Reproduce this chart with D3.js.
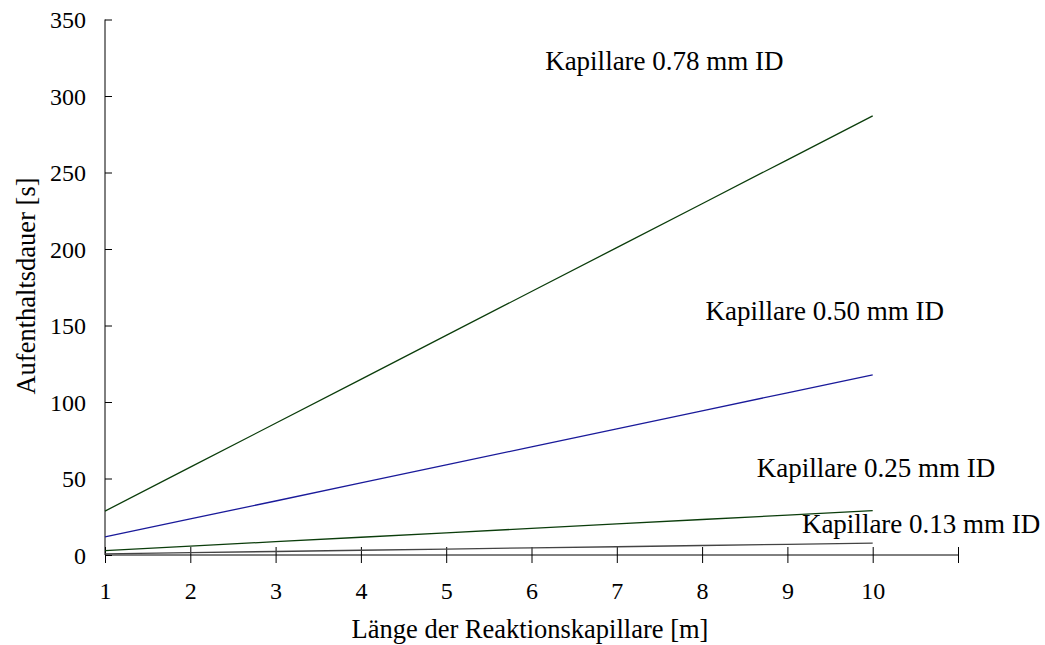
<!DOCTYPE html>
<meta charset="utf-8">
<style>
body { margin: 0; background: #fff; }
text { font-family: "Liberation Serif", "DejaVu Serif", serif; fill: #000; }
.axis path, .axis line { stroke: #000; stroke-width: 1; }
</style>
<svg id="chart" width="1045" height="645"></svg>
<script src="https://cdn.jsdelivr.net/npm/d3@7"></script>
<script>

// capillary length [m]
const lengths = [1, 2, 3, 4, 5, 6, 7, 8, 9, 10]

// residence time [s] per capillary
const t078 = [28.7, 57.4, 86.1, 114.8, 143.5, 172.2, 200.9, 229.6, 258.3, 287.0]
const t050 = [11.8, 23.6, 35.3, 47.1, 58.9, 70.7, 82.4, 94.2, 106.0, 117.8]
const t025 = [2.9, 5.8, 8.7, 11.6, 14.5, 17.4, 20.3, 23.2, 26.1, 29.0]
const t013 = [0.8, 1.6, 2.3, 3.1, 3.9, 4.7, 5.4, 6.2, 7.0, 7.8]

const seriesNames = ["Kapillare 0.78 mm ID", "Kapillare 0.50 mm ID", "Kapillare 0.25 mm ID", "Kapillare 0.13 mm ID"]
// label anchor in data units [length, time]
const labelPos = [[6.16, 317], [8.04, 153.6], [8.64, 51], [9.17, 14.6]]

const xTicks = [1, 2, 3, 4, 5, 6, 7, 8, 9, 10, 11]
const yTicks = [0, 50, 100, 150, 200, 250, 300, 350]

const colors = ["#0b3d0b", "#1a1a9a", "#0b3d0b", "#444444"]
const allSeries = [t078, t050, t025, t013]

const svg = d3.select("#chart")

const x = d3.scaleLinear().domain([1, 11]).range([105, 958])
const y = d3.scaleLinear().domain([0, 350]).range([555, 19.5])

// axes with ticks crossing the axis line
const xAxis = svg.append("g")
    .attr("class", "axis")
    .attr("transform", `translate(0, ${y(0)})`)
    .call(d3.axisBottom(x).tickValues(xTicks).tickSizeOuter(0).tickSize(8)
      .tickFormat(d => d <= 10 ? d : ""))
xAxis.selectAll(".tick line").attr("y1", -8)
xAxis.selectAll(".tick text").attr("dy", 0).attr("y", 44).style("font-size", "24px")
xAxis.select(".domain").attr("d", `M${x(1)},0H${x(11)}`)

const yAxis = svg.append("g")
    .attr("class", "axis")
    .attr("transform", `translate(${x(1)}, 0)`)
    .call(d3.axisLeft(y).tickValues(yTicks).tickSizeOuter(0).tickSize(8))
yAxis.selectAll(".tick line").attr("x2", 7)
yAxis.selectAll(".tick text").attr("x", -19).attr("dy", "0.35em").style("font-size", "24px")
yAxis.select(".domain").attr("d", `M0,${y(0)}V${y(350)}`)

// lines
const line = d3.line()
  .x((d, i) => x(lengths[i]))
  .y(d => y(d))

allSeries.forEach((s, k) => {
  svg.append("path")
    .attr("d", line(s))
    .attr("fill", "none")
    .attr("stroke", colors[k])
    .attr("stroke-width", 1.3)
})

// series labels
seriesNames.forEach((name, k) => {
  svg.append("text")
    .attr("x", x(labelPos[k][0]))
    .attr("y", y(labelPos[k][1]))
    .style("font-size", "27px")
    .text(name)
})

// axis titles
svg.append("text")
  .attr("x", 530)
  .attr("y", 638)
  .attr("text-anchor", "middle")
  .style("font-size", "26.5px")
  .text("Länge der Reaktionskapillare [m]")

svg.append("g")
    .attr("transform", `translate(35, 286)`)
  .append("text")
    .attr("transform", "rotate(-90)")
    .attr("text-anchor", "middle")
    .style("font-size", "26.5px")
    .text("Aufenthaltsdauer [s]")

</script>
